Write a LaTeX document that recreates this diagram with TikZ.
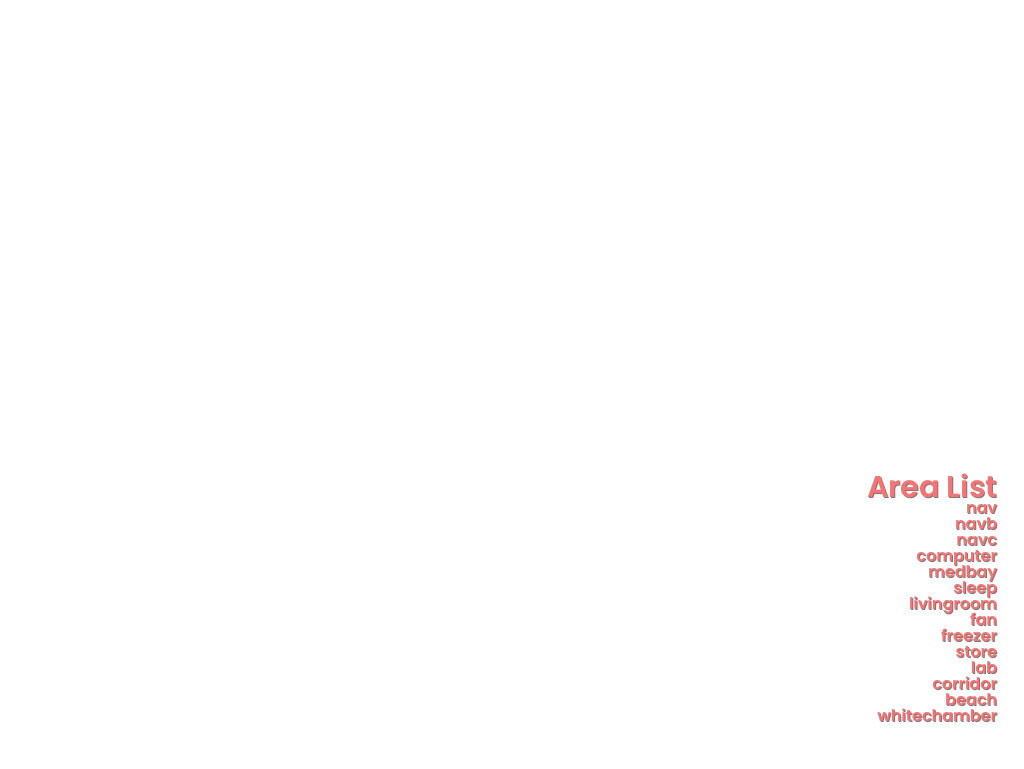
\documentclass[tikz,border=0pt]{standalone}
\usepackage{fontspec}
\setmainfont{Poppins}[UprightFont=* SemiBold]
\definecolor{salmon}{HTML}{F77474}
\definecolor{shadowgray}{HTML}{7A7A7A}
\tikzset{listtext/.style={anchor=base east,inner sep=0pt,outer sep=0pt}}
\newcommand{\shadowtext}[5]{% name, x, y, size, text
  \node[listtext,text=shadowgray,font=\fontsize{#4}{#4}\selectfont] (#1s) at (#2+1,#3-1) {#5};
  \node[listtext,text=salmon,font=\fontsize{#4}{#4}\selectfont] (#1) at (#2,#3) {#5};
}
\begin{document}
\begin{tikzpicture}[x=1pt,y=1pt]
\useasboundingbox[fill=white] (0,0) rectangle (1024,-768);
\shadowtext{title}{997}{-497}{30}{Area List}
\foreach \t [count=\i from 0] in {nav,navb,navc,computer,medbay,sleep,livingroom,fan,freezer,store,lab,corridor,beach,whitechamber}{
  \pgfmathsetmacro{\yy}{-513-16*\i}
  \shadowtext{item\i}{997}{\yy}{16}{\t}
}
\end{tikzpicture}
\end{document}
